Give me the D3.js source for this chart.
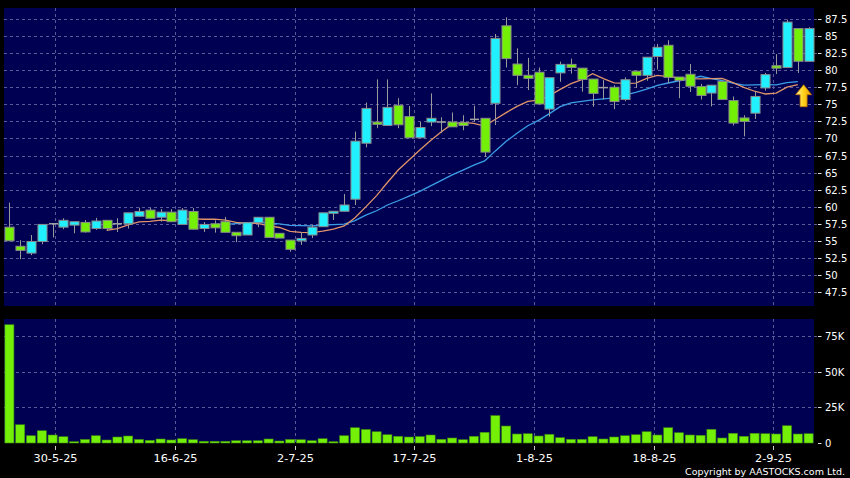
<!DOCTYPE html>
<html><head><meta charset="utf-8">
<script src="https://cdn.jsdelivr.net/npm/d3@7/dist/d3.min.js"></script>
<style>html,body{margin:0;padding:0;background:#000;}svg{display:block}</style>
</head><body><svg id="c" width="850" height="478"></svg>
<script>
// ---- data ----
const opens  = [57.0,54.2,53.2,54.9,57.5,57.0,57.3,57.7,56.8,58.0,57.5,57.5,58.6,59.5,58.45,59.2,57.4,59.3,56.8,57.5,
                57.8,56.25,55.85,57.65,58.45,56.1,55.1,55.0,55.85,57.07,59.03,59.33,61.1,69.3,72.4,71.9,74.85,73.2,70.1,72.4,
                72.4,72.4,72.3,72.8,72.95,75.15,86.5,80.9,79.25,79.7,74.3,79.6,80.85,80.3,78.7,77.45,77.5,75.7,79.85,79.25,
                82.0,83.65,79.0,79.4,77.6,76.65,78.35,75.55,73.0,73.7,77.4,80.65,80.4,86.1,81.3];
const highs  = [60.6,55.1,55.85,57.4,57.5,58.3,57.8,58.05,58.35,58.0,58.3,59.1,59.85,59.85,59.65,59.65,59.8,59.8,57.75,58.0,
                58.5,56.25,57.65,58.45,58.45,56.1,55.1,56.3,57.3,59.1,59.33,61.85,71.0,75.25,78.65,78.65,75.9,74.75,72.4,76.6,
                73.1,73.8,73.4,74.8,72.95,85.3,87.75,83.2,81.8,80.4,78.9,81.25,81.7,80.3,78.7,78.55,77.8,78.95,79.85,81.9,
                83.85,84.4,79.0,80.9,78.0,77.8,78.35,76.15,73.4,76.9,79.6,82.35,87.4,86.1,86.3];
const lows   = [55.0,52.3,52.9,54.5,55.5,56.7,56.1,56.2,56.6,56.5,56.3,56.8,58.5,58.3,57.8,57.8,57.4,56.7,56.3,56.2,
                56.25,54.8,55.85,57.0,55.5,55.4,53.4,54.4,55.4,57.07,58.05,59.33,60.25,68.7,71.5,71.9,71.5,70.1,70.1,71.8,
                70.8,71.7,71.2,72.45,67.3,71.97,80.4,77.8,77.1,75.05,73.2,78.3,79.5,76.85,74.65,75.7,74.3,75.45,77.4,78.45,
                80.1,78.1,75.9,76.8,75.7,74.7,75.7,71.9,70.3,72.85,77.0,79.45,80.4,79.6,81.3];
const closes = [55.0,53.6,54.9,57.4,57.5,58.0,57.8,56.3,57.9,56.8,57.5,59.1,59.3,58.3,59.2,57.8,59.5,56.7,57.4,56.9,
                56.25,55.75,57.65,58.45,55.5,55.4,53.75,55.35,57.0,59.1,59.33,60.25,69.6,74.4,72.07,74.55,72.0,70.1,71.6,72.95,
                72.4,71.7,71.9,72.8,68.0,84.65,81.7,79.25,78.8,75.05,78.9,80.85,80.4,78.65,76.6,77.45,75.4,78.6,79.25,81.9,
                83.35,78.95,78.5,77.65,76.3,77.8,75.7,72.25,72.5,76.15,79.35,80.3,87.05,81.3,86.1];
// volume in thousands of shares
const volumes = [82.9,12.8,5.1,8.6,5.6,4.4,0.9,2.5,5.1,2.1,4.2,4.9,2.5,1.9,2.8,2.1,3.0,2.3,1.2,1.2,
                 1.2,1.6,1.6,1.6,2.8,1.4,2.5,2.3,1.6,3.0,0.9,5.1,10.7,9.5,7.9,5.8,4.7,4.2,4.5,5.6,
                 2.6,3.5,2.3,4.7,7.5,19.2,11.9,6.3,6.5,4.9,6.1,3.7,2.6,2.6,4.4,2.8,4.2,5.1,5.8,7.9,
                 5.6,10.7,7.2,5.6,5.4,9.6,3.5,6.8,4.7,6.8,6.5,6.3,12.1,6.3,6.5];
const priceTicks = [47.5,50,52.5,55,57.5,60,62.5,65,67.5,70,72.5,75,77.5,80,82.5,85,87.5];
const volTicks = [0,25,50,75];
const dateLabels = ["30-5-25","16-6-25","2-7-25","17-7-25","1-8-25","18-8-25","2-9-25"];
const datePos = [4.25,15.33,26.4,37.47,48.55,59.65,70.72]; // position in candle units
const maShortN = 10, maLongN = 20;
const maLastIdx = 73; // moving-average lines stop one session before the last candle

// ---- layout ----
const W = 850, H = 478;
const P = {l:4, r:814, pt:8, pb:306, vt:319, vb:443};
const svg = d3.select("#c");
const n = closes.length;
const x = d3.scaleLinear().domain([-0.5, n - 0.5]).range([P.l, P.r]);
const step = x(1) - x(0);
const bw = step * 0.84;
const yP = d3.scaleLinear().domain([47.5, 87.5]).range([292, 19]);
const yV = d3.scaleLinear().domain([0, 75]).range([P.vb, 336]);

const navy = "#000052", grid = "#5a5a98";
const upC = "#20f0ff", dnC = "#74f008", edge = "#8a8a8a";

svg.append("rect").attr("width", W).attr("height", H).attr("fill", "#000");
svg.append("rect").attr("x", P.l).attr("y", P.pt).attr("width", P.r - P.l).attr("height", P.pb - P.pt).attr("fill", navy);
svg.append("rect").attr("x", P.l).attr("y", P.vt).attr("width", P.r - P.l).attr("height", P.vb - P.vt).attr("fill", navy);

const gridG = svg.append("g").attr("stroke", grid).attr("stroke-dasharray", "3,3").attr("stroke-width", 1);
priceTicks.forEach(v => gridG.append("line").attr("x1", P.l).attr("x2", P.r + 4)
  .attr("y1", Math.round(yP(v)) + 0.5).attr("y2", Math.round(yP(v)) + 0.5));
volTicks.filter(v => v > 0).forEach(v => gridG.append("line").attr("x1", P.l).attr("x2", P.r + 4)
  .attr("y1", Math.round(yV(v)) + 0.5).attr("y2", Math.round(yV(v)) + 0.5));
datePos.forEach(p => {
  const xx = Math.round(x(p)) + 0.5;
  gridG.append("line").attr("x1", xx).attr("x2", xx).attr("y1", P.pt).attr("y2", P.pb);
  gridG.append("line").attr("x1", xx).attr("x2", xx).attr("y1", P.vt).attr("y2", P.vb);
});

// axes labels
const font = "DejaVu Sans, Verdana, sans-serif";
const pax = svg.append("g").attr("fill", "#fff").attr("font-family", font).attr("font-size", 10);
priceTicks.forEach(v => {
  const yy = Math.round(yP(v)) + 0.5;
  svg.append("line").attr("x1", 818).attr("x2", 821.5).attr("y1", yy).attr("y2", yy).attr("stroke", "#ddd");
  pax.append("text").attr("x", 825).attr("y", yy).attr("dy", "0.36em").text(d3.format("")(v));
});
volTicks.forEach(v => {
  const yy = Math.round(yV(v)) + 0.5;
  svg.append("line").attr("x1", 818).attr("x2", 821.5).attr("y1", yy).attr("y2", yy).attr("stroke", "#ddd");
  pax.append("text").attr("x", 825).attr("y", yy).attr("dy", "0.36em").text(v === 0 ? "0" : v + "K");
});
const dax = svg.append("g").attr("fill", "#fff").attr("font-family", font).attr("font-size", 11.3).attr("text-anchor", "middle");
dateLabels.forEach((t, i) => {
  const xx = Math.round(x(datePos[i])) + 0.5;
  svg.append("line").attr("x1", xx).attr("x2", xx).attr("y1", 446).attr("y2", 450).attr("stroke", "#ccc");
  dax.append("text").attr("x", xx).attr("y", 462).text(t);
});
svg.append("text").attr("x", 845).attr("y", 475).attr("text-anchor", "end").attr("fill", "#fff")
  .attr("font-family", font).attr("font-size", 9.5).text("Copyright by AASTOCKS.com Ltd.");

// volume bars
svg.append("g").selectAll("rect").data(volumes).join("rect")
  .attr("x", (d, i) => x(i) - bw / 2).attr("width", bw)
  .attr("y", d => yV(d)).attr("height", d => P.vb - yV(d))
  .attr("fill", dnC).attr("stroke", "#3c8a10").attr("stroke-width", 0.6);

// moving averages (from closes)
function ma(k) {
  return closes.map((c, i) => (i < k - 1 || i > maLastIdx) ? null : d3.mean(closes.slice(i - k + 1, i + 1)));
}
const maS = ma(maShortN), maL = ma(maLongN);
const line = d3.line().defined(d => d[1] != null).x(d => x(d[0])).y(d => yP(d[1]));
svg.append("path").attr("d", line(maL.map((v, i) => [i, v]))).attr("fill", "none").attr("stroke", "#3a9ee8").attr("stroke-width", 1.3);
svg.append("path").attr("d", line(maS.map((v, i) => [i, v]))).attr("fill", "none").attr("stroke", "#e0946a").attr("stroke-width", 1.3);

// candles
const cg = svg.append("g");
closes.forEach((c, i) => {
  const o = opens[i], h = highs[i], l = lows[i];
  const xc = Math.round(x(i)) + 0.5;
  cg.append("line").attr("x1", xc).attr("x2", xc).attr("y1", yP(h)).attr("y2", yP(l)).attr("stroke", "#9a9a9a");
  const top = yP(Math.max(o, c)), bot = yP(Math.min(o, c));
  if (Math.abs(o - c) < 0.05) {
    cg.append("line").attr("x1", xc - bw / 2).attr("x2", xc + bw / 2).attr("y1", top).attr("y2", top).attr("stroke", "#a0a0a0").attr("stroke-width", 1.5);
  } else {
    cg.append("rect").attr("x", xc - bw / 2).attr("y", top).attr("width", bw).attr("height", Math.max(1.5, bot - top))
      .attr("fill", c > o ? upC : dnC).attr("stroke", edge).attr("stroke-width", 1);
  }
});

// up arrow under the end of the MA lines
const ax = x(n - 1) - 5, ay = yP(maS[maLastIdx]);
svg.append("defs").html('<linearGradient id="ag" x1="0" x2="1" y1="0" y2="0"><stop offset="0" stop-color="#fff2a0"/><stop offset="0.5" stop-color="#ffd21a"/><stop offset="1" stop-color="#e89a00"/></linearGradient>');
svg.append("path")
  .attr("d", `M${ax},${ay} l8,10 h-4.5 v12 h-7 v-12 h-4.5 z`)
  .attr("fill", "url(#ag)").attr("stroke", "#c07000").attr("stroke-width", 0.8);
</script></body></html>
